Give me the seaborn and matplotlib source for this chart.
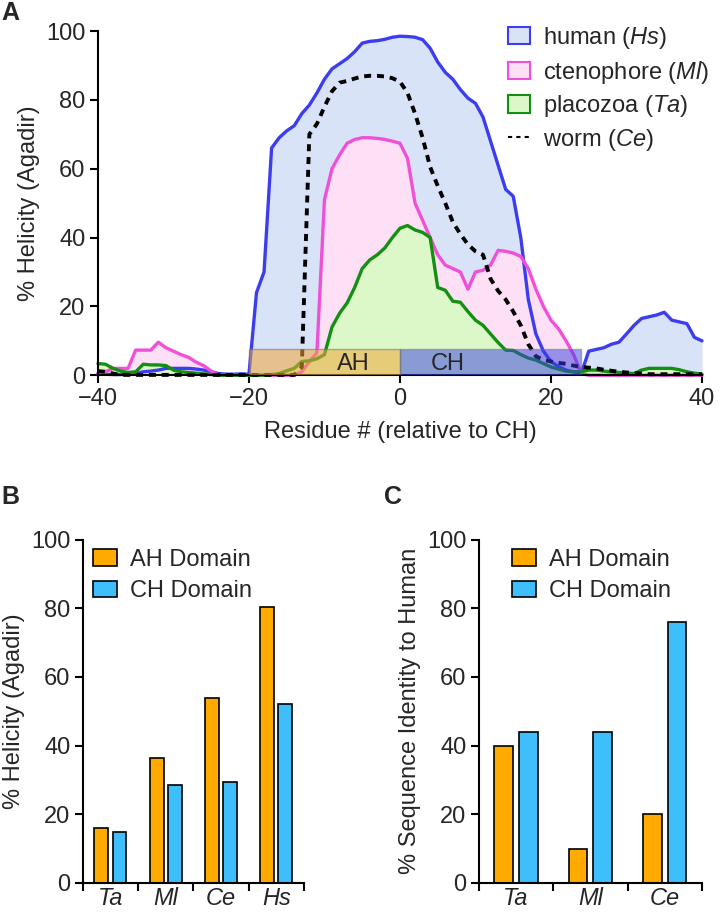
import numpy as np
import pandas as pd
import matplotlib
matplotlib.use("Agg")
import matplotlib.pyplot as plt
import matplotlib.patches as mpatches
from matplotlib.lines import Line2D
import seaborn as sns

sns.set_style("ticks")
plt.rcParams['font.family'] = ['Liberation Sans', 'DejaVu Sans']
plt.rcParams['mathtext.fontset'] = 'custom'
plt.rcParams['mathtext.rm'] = 'Liberation Sans'
plt.rcParams['mathtext.it'] = 'Liberation Sans:italic'

# ---- panel A data: helicity per residue (-40..40)
residue = list(range(-40, 41))
human = [0.5, 0.3, 0.2, 0.2, 0.3, 0.5, 1.0, 1.2, 1.5, 2.0, 2.0, 2.0, 2.0, 1.8, 1.5, 1.0, 0.5, 0.3, 0.3, 0.4,
         0.3, 24, 30, 66, 69, 71, 72.5, 76, 78.5, 82, 86, 89, 90.5, 92, 94, 96.5, 97, 97.2, 97.6, 98.2,
         98.5, 98.4, 98.2, 97.5, 95, 91, 88, 86, 83, 80.5, 79, 75, 68, 61, 54, 52, 40, 22, 12, 7,
         4, 2.5, 1.5, 1, 0.5, 7, 7.5, 8, 9, 9.6, 12, 14.5, 16.5, 17, 17.5, 18.3, 16, 15.5, 15, 11, 10]
ctenophore = [0.5, 1, 2, 2, 2, 7.3, 7.3, 7.3, 9.6, 8, 7, 6, 5.2, 3.8, 2.8, 1.2, 0, 0, 0, 0,
              0, 0, 0, 0, 0, 0, 0, 1, 4, 6.5, 51, 60, 64, 67.4, 68.5, 69, 69, 68.8, 68.5, 68,
              67.4, 63, 50, 45, 40, 35, 32, 31, 30, 25, 30, 30.5, 32, 36.3, 36, 35.5, 34.5, 31, 25, 20,
              16, 13.5, 10, 6, 0.5, 0, 0, 0, 0, 0, 0, 0, 0, 0, 0, 0, 0, 0, 0, 0, 0]
placozoa = [3.4, 3.2, 2, 1.2, 0.8, 1, 3.2, 3, 3, 2.8, 1.5, 1, 0.8, 0.6, 0.4, 0.2, 0, 0, 0, 0,
            0, 0, 0, 0.2, 0.5, 1.3, 2, 4, 4.2, 4.8, 6, 14, 18, 21, 25.5, 31, 33.5, 35, 37, 40,
            42.7, 43.5, 42.2, 41.5, 40, 25.5, 24.7, 21.5, 21.2, 18.5, 16, 14.5, 12, 9.5, 7.3, 7.2, 6, 5, 4.4, 3.4,
            2.4, 1.8, 1.2, 1, 1, 1.5, 1.5, 1.2, 1, 0.8, 0.6, 0.5, 1.5, 2, 2, 2, 2, 1.6, 1, 0.6, 0.3]
worm = [1.2, 1, 0.5, 0.1, 0.1, 0.1, 0.1, 0.1, 0.1, 0.1, 0.1, 0.1, 0.1, 0.1, 0.1, 0.1, 0.1, 0.1, 0.1, 0.1,
        0.1, 0.1, 0.1, 0.1, 0.1, 0.1, 0.1, 2.4, 70, 73, 78, 82.5, 85, 85.5, 86.2, 86.8, 87, 87, 86.8, 86.3,
        85.3, 82, 76, 69, 60.5, 55, 50, 44.5, 41, 38, 36, 35, 28, 24.5, 22, 18.5, 14.5, 9, 5.5, 4.5,
        4, 3.6, 3.3, 2.8, 2.4, 2.2, 2, 1.6, 1.3, 1, 0.8, 0.6, 0.5, 0.3, 0.3, 0.3, 0.3, 0.3, 0.3, 0.3, 0.3]

# ---- panel B / C data
species_b = ['Ta', 'Ml', 'Ce', 'Hs']
helicity_ah = [15.9, 36.5, 53.8, 80.4]
helicity_ch = [14.7, 28.5, 29.5, 52.0]
species_c = ['Ta', 'Ml', 'Ce']
identity_ah = [40, 10, 20]
identity_ch = [44, 44, 76]

fig = plt.figure(figsize=(7.2, 9.13), dpi=100)
axA = fig.add_axes([0.136, 0.589, 0.839, 0.377])
axB = fig.add_axes([0.115, 0.033, 0.307, 0.376])
axC = fig.add_axes([0.665, 0.033, 0.310, 0.376])

FS = 17
series = [(human, '#3d3df0', '#d9e3f8', r'human ($\mathit{Hs}$)'),
          (ctenophore, '#f050d8', '#fde0f6', r'ctenophore ($\mathit{Ml}$)'),
          (placozoa, '#139013', '#ddf8c8', r'placozoa ($\mathit{Ta}$)')]
handles = []
for vals, lc, fc, lab in series:
    axA.fill_between(residue, 0, vals, color=fc, lw=0)
    sns.lineplot(x=residue, y=vals, ax=axA, color=lc, lw=2.4, clip_on=False)
    handles.append(mpatches.Patch(facecolor=fc, edgecolor=lc, lw=1.5, label=lab))
sns.lineplot(x=residue, y=worm, ax=axA, color='black', lw=2.8, ls=(0, (1.8, 1.5)), clip_on=False)
handles.append(Line2D([0], [0], color='black', lw=1.5, ls=(0, (2, 2)), label=r'worm ($\mathit{Ce}$)'))

# AH / CH domain boxes
axA.add_patch(mpatches.Rectangle((-20, 0), 20, 7.6, facecolor='#efa638', alpha=0.55,
                                 edgecolor='#707070', lw=1, zorder=5))
axA.add_patch(mpatches.Rectangle((0, 0), 24, 7.6, facecolor='#3540e0', alpha=0.5,
                                 edgecolor='#707070', lw=1, zorder=5))
axA.text(-6.2, 3.4, 'AH', ha='center', va='center', fontsize=FS, zorder=6)
axA.text(6.3, 3.4, 'CH', ha='center', va='center', fontsize=FS, zorder=6)

axA.set_xlim(-40, 40)
axA.set_ylim(0, 100)
axA.set_xticks([-40, -20, 0, 20, 40])
axA.set_yticks([0, 20, 40, 60, 80, 100])
axA.set_xlabel('Residue # (relative to CH)', fontsize=FS, labelpad=8)
axA.set_ylabel('% Helicity (Agadir)', fontsize=FS)
axA.legend(handles=handles, loc='upper left', bbox_to_anchor=(0.663, 1.045), borderaxespad=0,
           frameon=False, fontsize=FS, handlelength=0.95, handleheight=0.75, handletextpad=0.55,
           labelspacing=0.32)

# ---- bar panels
def bar_panel(ax, species, ah, ch, ylabel, legx):
    df = pd.DataFrame({'species': species * 2,
                       'value': ah + ch,
                       'domain': ['AH Domain'] * len(species) + ['CH Domain'] * len(species)})
    sns.barplot(data=df, x='species', y='value', hue='domain', ax=ax,
                palette=['#ffaa00', '#3fbefc'], width=0.66, gap=0.24,
                edgecolor='black', linewidth=1.2, saturation=1, errorbar=None)
    ax.set_xlim(-0.5, len(species) - 0.5)
    ax.set_ylim(0, 100)
    ax.set_yticks([0, 20, 40, 60, 80, 100])
    ax.set_xticks(np.arange(-0.5, len(species), 1.0))
    ax.set_xticklabels([])
    ax.set_xticks(np.arange(len(species)), minor=True)
    ax.set_xticklabels(species, minor=True, fontstyle='italic', fontsize=FS)
    ax.tick_params(axis='x', which='minor', length=0, pad=3)
    ax.set_xlabel('')
    ax.set_ylabel(ylabel, fontsize=FS)
    ax.legend(loc='upper left', bbox_to_anchor=(legx, 1.0), borderaxespad=0, frameon=False,
              fontsize=FS, handlelength=1.0, handleheight=0.7, handletextpad=0.55, labelspacing=0.4)

bar_panel(axB, species_b, helicity_ah, helicity_ch, '% Helicity (Agadir)', 0.003)
bar_panel(axC, species_c, identity_ah, identity_ch, '% Sequence Identity to Human', 0.106)

for ax in [axA, axB, axC]:
    sns.despine(ax=ax)
    for s in ['left', 'bottom']:
        ax.spines[s].set_linewidth(1.5)
        ax.spines[s].set_color('black')
    ax.tick_params(axis='both', which='major', direction='out', length=6, width=1.5,
                   labelsize=FS, color='black', pad=3)

fig.text(0.002, 0.986, 'A', fontsize=18, fontweight='bold', va='center')
fig.text(0.002, 0.456, 'B', fontsize=18, fontweight='bold', va='center')
fig.text(0.533, 0.456, 'C', fontsize=18, fontweight='bold', va='center')

fig.savefig('out.png', dpi=100)
